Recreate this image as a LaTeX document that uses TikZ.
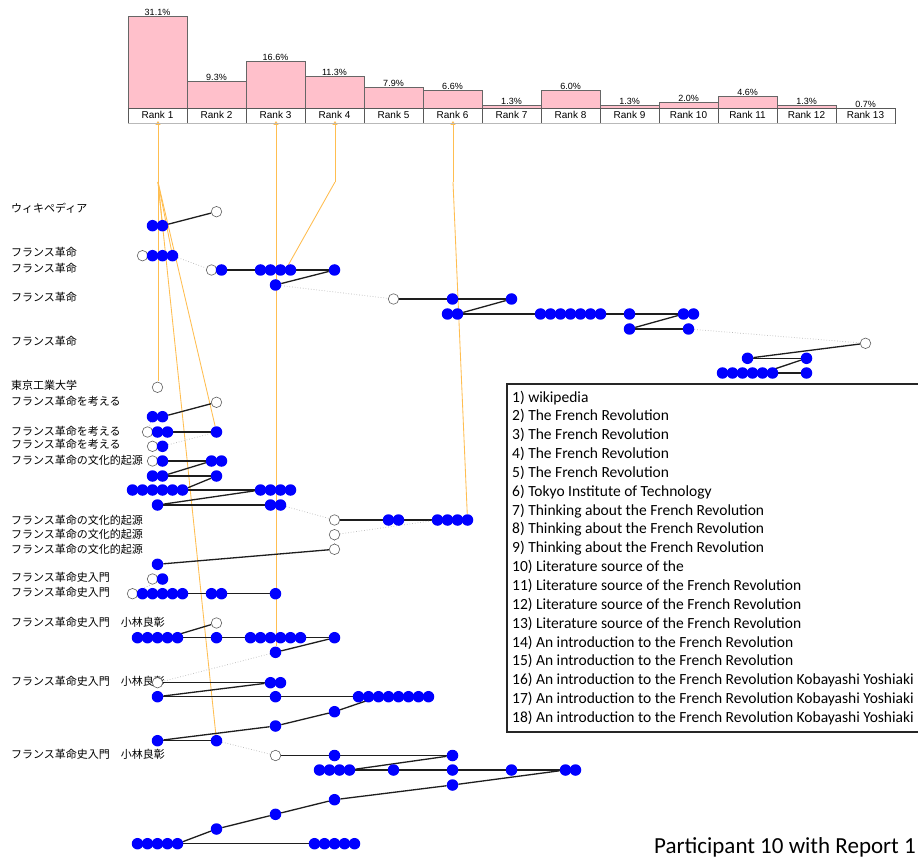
\documentclass[tikz,border=0pt]{standalone}
\usepackage{fontspec}
\setmainfont{Liberation Sans}
\newfontfamily\jpfont{Noto Sans CJK JP}
\newfontfamily\calfont{Carlito}
\usetikzlibrary{arrows.meta}
\pgfdeclarelayer{back}
\pgfdeclarelayer{bg}
\pgfsetlayers{back,bg,main}
\definecolor{barpink}{RGB}{255,192,203}
\definecolor{blu}{RGB}{0,0,255}
\definecolor{gz}{RGB}{255,190,80}
\definecolor{gzm}{RGB}{255,160,0}
\definecolor{scan}{RGB}{30,30,30}
\newcommand\Bdot[3]{\node[bdot] (#1) at (#2,#3) {};}
\newcommand\Wdot[3]{\node[wdot] (#1) at (#2,#3) {};}
\newcommand\Brow[4]{\foreach \k in {1,...,#3}{\node[bdot] (#1-\k) at ({#2+10*(\k-1)},#4) {};}}
\newcommand\Jlab[3]{\node[lab] (#1) at (11,{#2+4}) {#3};}
\begin{document}
\begin{tikzpicture}[x=1pt,y=-1pt,
  bdot/.style={circle, fill=blu, inner sep=0pt, minimum size=11.5pt},
  wdot/.style={circle, draw=gray!75!black, fill=white, line width=0.6pt, inner sep=0pt, minimum size=10.5pt},
  scanline/.style={draw=scan, line width=1.3pt},
  jump/.style={draw=gray!55, line width=0.7pt, dotted},
  gaze/.style={draw=gz, line width=0.85pt},
  gazetip/.style={{Triangle[width=5pt,length=4pt,fill=gzm]}-},
  bar/.style={fill=barpink, draw=gray!80!black, line width=0.6pt},
  cell/.style={draw=gray!70!black, line width=0.6pt},
  pct/.style={anchor=base, inner sep=0pt, font=\fontsize{9}{10}\selectfont},
  rk/.style={anchor=base, inner sep=0pt, font=\fontsize{10}{11}\selectfont},
  lab/.style={anchor=base west, inner sep=0pt, font=\jpfont\fontsize{11}{12}\selectfont},
  leg/.style={anchor=base west, inner sep=0pt, font=\calfont\fontsize{15.5}{17}\selectfont}
]
\begin{pgfonlayer}{back}
\fill[white] (0,0) rectangle (918,858);
\end{pgfonlayer}
\useasboundingbox (0,0) rectangle (918,858);

% histogram
\foreach \i/\t/\p in {1/16.7/31.1, 2/81/9.3, 3/61/16.6, 4/76/11.3, 5/87.7/7.9, 6/90.3/6.6, 7/105/1.3, 8/90.7/6.0, 9/105.3/1.3, 10/102.3/2.0, 11/96.7/4.6, 12/105.3/1.3}{
  \draw[bar] ({128+59*(\i-1)},\t) rectangle ({128+59*\i},108);
  \node[pct] (pct\i) at ({157.5+59*(\i-1)},{\t-0.7}) {\p\%};
}
\node[pct] (pct13) at (865.5,107.3) {0.7\%};
\foreach \i in {1,...,13}{
  \draw[cell] ({128+59*(\i-1)},108) rectangle ({128+59*\i},123);
  \node[rk] (rank\i) at ({157.5+59*(\i-1)},119) {Rank \i};
}
\draw[gray!55, line width=1pt] (128,123.5) -- (895,123.5);

% labels
\Jlab{L1}{209}{ウィキペディア}
\Jlab{L2}{252.7}{フランス革命}
\Jlab{L3}{268.3}{フランス革命}
\Jlab{L4}{297.7}{フランス革命}
\Jlab{L5}{341}{フランス革命}
\Jlab{L6}{385.3}{東京工業大学}
\Jlab{L7}{401.7}{フランス革命を考える}
\Jlab{L8}{431}{フランス革命を考える}
\Jlab{L9}{444.3}{フランス革命を考える}
\Jlab{L10}{460}{フランス革命の文化的起源}
\Jlab{L11}{520}{フランス革命の文化的起源}
\Jlab{L12}{534}{フランス革命の文化的起源}
\Jlab{L13}{549}{フランス革命の文化的起源}
\Jlab{L14}{577.3}{フランス革命史入門}
\Jlab{L15}{592.3}{フランス革命史入門}
\Jlab{L16}{622.3}{フランス革命史入門　小林良彰}
\Jlab{L17}{681}{フランス革命史入門　小林良彰}
\Jlab{L18}{754.3}{フランス革命史入門　小林良彰}

% dots
\Wdot{w1}{216.5}{211.7}
\Brow{a}{152.5}{2}{225.7}
\Wdot{w2}{142.5}{255.7}
\Brow{b}{152.5}{3}{255.7}
\Wdot{w3}{211.5}{270}
\Bdot{c1}{221.5}{270}
\Brow{c}{260.5}{4}{270}
\Bdot{c2}{334.5}{270}
\Bdot{d1}{275.5}{285}
\Wdot{w4}{393.5}{299}
\Bdot{e1}{452.5}{299}
\Bdot{e2}{511.5}{299}
\Brow{f}{447.5}{2}{314}
\Brow{g}{540.5}{7}{314}
\Bdot{f3}{629.5}{314}
\Brow{h}{683.5}{2}{314}
\Bdot{i1}{629.5}{329}
\Bdot{i2}{688.5}{329}
\Wdot{w5}{865.5}{343.3}
\Bdot{j1}{747.5}{358.3}
\Bdot{j2}{806.5}{358.3}
\Brow{k}{722.5}{6}{373}
\Bdot{k7}{806.5}{373}
\Wdot{w6}{157.5}{387.3}
\Wdot{w7}{216.5}{402.3}
\Brow{l}{152.5}{2}{416.7}
\Wdot{w8}{147.5}{432}
\Brow{m}{157.5}{2}{432}
\Bdot{m3}{216.5}{432}
\Wdot{w9}{152.5}{446.3}
\Bdot{n1}{162.5}{446.3}
\Wdot{w10}{152.5}{461}
\Bdot{o1}{162.5}{461}
\Brow{o}{211.5}{2}{461}
\Brow{p}{152.5}{2}{476}
\Bdot{p3}{216.5}{476}
\Brow{q}{132.5}{6}{490}
\Brow{r}{260.5}{4}{490}
\Bdot{s1}{157.5}{505}
\Brow{s}{270.5}{2}{505}
\Wdot{w11}{334.5}{520}
\Brow{t}{388.5}{2}{520}
\Brow{u}{437.5}{4}{520}
\Wdot{w12}{334.5}{534.7}
\Wdot{w13}{334.5}{549.3}
\Bdot{v1}{157.5}{564.3}
\Wdot{w14}{152.5}{579}
\Bdot{x1}{162.5}{579}
\Wdot{w15}{132.5}{593.7}
\Brow{y}{142.5}{5}{593.7}
\Brow{yy}{211.5}{2}{593.7}
\Bdot{y3}{275.5}{593.7}
\Wdot{w16}{216.5}{623}
\Brow{z}{137.5}{5}{637.7}
\Bdot{z2}{216.5}{637.7}
\Brow{zz}{250.5}{6}{637.7}
\Bdot{z4}{334.5}{637.7}
\Bdot{aa}{275.5}{652.3}
\Wdot{w17}{157.5}{682.7}
\Brow{bb}{270.5}{2}{682.7}
\Bdot{cc1}{157.5}{696.7}
\Bdot{cc2}{275.5}{696.7}
\Brow{cc}{358.5}{8}{696.7}
\Bdot{dd}{334.5}{711.7}
\Bdot{ee}{275.5}{726}
\Bdot{ff1}{157.5}{740.7}
\Bdot{ff2}{216.5}{740.7}
\Wdot{w18}{275.5}{755.5}
\Bdot{gg1}{334.5}{755.5}
\Bdot{gg2}{452.5}{755.5}
\Brow{hh}{319.5}{4}{770}
\Bdot{hh5}{393.5}{770}
\Bdot{hh6}{452.5}{770}
\Bdot{hh7}{511.5}{770}
\Brow{ii}{565.5}{2}{770}
\Bdot{jj}{452.5}{785}
\Bdot{kk}{334.5}{799.7}
\Bdot{ll}{275.5}{814.3}
\Bdot{mm}{216.5}{829}
\Brow{nn}{137.5}{5}{843.7}
\Brow{oo}{314.5}{5}{843.7}

% gaze coordinates
\coordinate (om1) at (158,121);
\coordinate (om3) at (276,121);
\coordinate (om4) at (335,121);
\coordinate (om6) at (453,121);
\coordinate (of1) at (158,182);
\coordinate (of3) at (276,182);
\coordinate (of4) at (335,182);
\coordinate (of6) at (453,182);
\coordinate (ot4) at (285.5,270);
\coordinate (ow6) at (158,381);
\coordinate (oaa) at (276,646);

\begin{pgfonlayer}{bg}
% orange gaze lines
\draw[gaze, gazetip] (om1) -- (of1);
\draw[gaze] (of1) -- (ow6);
\draw[gaze] (of1) -- (a-2);
\draw[gaze] (of1) -- (b-3);
\draw[gaze] (of1) -- (m3);
\draw[gaze] (of1) -- (ff2);
\draw[gaze, gazetip] (om3) -- (of3);
\draw[gaze] (of3) -- (oaa);
\draw[gaze, gazetip] (om4) -- (of4);
\draw[gaze] (of4) -- (ot4);
\draw[gaze, gazetip] (om6) -- (of6);
\draw[gaze] (of6) -- (u-4);
% scan path
\draw[scanline] (w1) -- (a-2);
\draw[scanline] (c1) -- (c2);
\draw[scanline] (c2) -- (d1);
\draw[scanline] (w4) -- (e2);
\draw[scanline] (e2) -- (f-2);
\draw[scanline] (f-1) -- (h-2);
\draw[scanline] (h-1) -- (i1);
\draw[scanline] (i1) -- (i2);
\draw[scanline] (w5) -- (j1);
\draw[scanline] (j1) -- (j2);
\draw[scanline] (j2) -- (k-5);
\draw[scanline] (k-1) -- (k7);
\draw[scanline] (w7) -- (l-2);
\draw[scanline] (m-2) -- (m3);
\draw[scanline] (o1) -- (o-1);
\draw[scanline] (o-1) -- (p-2);
\draw[scanline] (p-2) -- (p3);
\draw[scanline] (p3) -- (q-6);
\draw[scanline] (q-6) -- (r-1);
\draw[scanline] (r-1) -- (s1);
\draw[scanline] (s1) -- (s-2);
\draw[scanline] (w11) -- (u-1);
\draw[scanline] (w13) -- (v1);
\draw[scanline] (y-5) -- (y3);
\draw[scanline] (w16) -- (z-4);
\draw[scanline] (z-5) -- (z4);
\draw[scanline] (z4) -- (aa);
\draw[scanline] (w17) -- (bb-2);
\draw[scanline] (bb-1) -- (cc1);
\draw[scanline] (cc1) -- (cc-8);
\draw[scanline] (cc-3) -- (dd);
\draw[scanline] (dd) -- (ee);
\draw[scanline] (ee) -- (ff1);
\draw[scanline] (ff1) -- (ff2);
\draw[scanline] (w18) -- (gg2);
\draw[scanline] (gg2) -- (hh-4);
\draw[scanline] (hh-4) -- (ii-2);
\draw[scanline] (ii-1) -- (jj);
\draw[scanline] (jj) -- (kk);
\draw[scanline] (kk) -- (ll);
\draw[scanline] (ll) -- (mm);
\draw[scanline] (mm) -- (nn-5);
\draw[scanline] (nn-5) -- (oo-1);
% jumps
\draw[jump] (b-3) -- (w3);
\draw[jump] (d1) -- (w4);
\draw[jump] (i2) -- (w5);
\draw[jump] (l-1) -- (w8);
\draw[jump] (m3) -- (n1);
\draw[jump] (s-2) -- (w11);
\draw[jump] (u-1) -- (w12);
\draw[jump] (w12) -- (w13);
\draw[jump] (x1) -- (w15);
\draw[jump] (aa) -- (w17);
\draw[jump] (ff2) -- (w18);
\end{pgfonlayer}

% legend
\draw[line width=1.2pt, draw=black!85] (507,384) rectangle (940,732);
\foreach \n/\s [count=\c from 0] in {1/wikipedia, 2/The French Revolution, 3/The French Revolution, 4/The French Revolution, 5/The French Revolution, 6/Tokyo Institute of Technology, 7/Thinking about the French Revolution, 8/Thinking about the French Revolution, 9/Thinking about the French Revolution, 10/Literature source of the, 11/Literature source of the French Revolution, 12/Literature source of the French Revolution, 13/Literature source of the French Revolution, 14/An introduction to the French Revolution, 15/An introduction to the French Revolution, 16/An introduction to the French Revolution Kobayashi Yoshiaki, 17/An introduction to the French Revolution Kobayashi Yoshiaki, 18/An introduction to the French Revolution Kobayashi Yoshiaki}{
  \node[leg] (leg\n) at (512,{402+18.85*\c}) {\n) \s};
}
\node[anchor=base east, inner sep=0pt, font=\calfont\fontsize{23}{27}\selectfont] (title) at (916,853) {Participant 10 with Report 1};
\end{tikzpicture}
\end{document}
